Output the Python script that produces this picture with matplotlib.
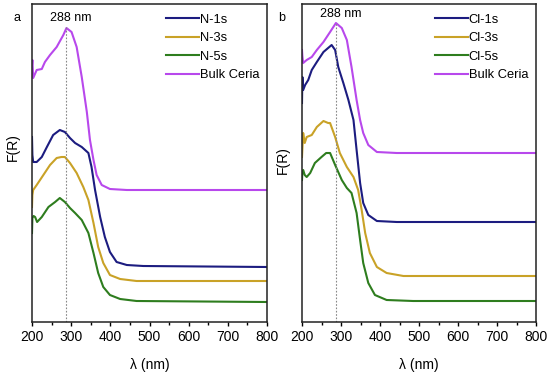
import matplotlib
matplotlib.use("Agg")
import matplotlib.pyplot as plt
from matplotlib.ticker import MultipleLocator

plt.rcParams["font.family"] = ["Liberation Sans", "DejaVu Sans"]

# panel a (wavelength in nm, F(R) in arbitrary units)
bulk_a_x = [200, 201, 203, 212, 225, 233, 246, 263, 280, 288, 301, 314, 327, 340, 348, 357, 365, 378, 399, 442, 800]
bulk_a_y = [257, 262, 244, 252, 253, 260, 267, 275, 287, 294, 290, 275, 245, 210, 182, 162, 147, 137, 133, 132, 132]
n1_x = [200, 201, 203, 212, 225, 238, 254, 271, 284, 297, 310, 327, 344, 352, 361, 374, 386, 399, 416, 442, 484, 800]
n1_y = [185, 167, 160, 160, 165, 175, 187, 192, 190, 184, 179, 175, 169, 155, 132, 105, 85, 70, 60, 57, 56, 55]
n3_x = [200, 201, 203, 212, 229, 246, 263, 275, 284, 297, 314, 331, 344, 357, 369, 382, 399, 425, 467, 800]
n3_y = [115, 127, 132, 137, 147, 157, 164, 165, 165, 159, 149, 135, 122, 99, 75, 59, 47, 43, 41, 41]
n5_x = [200, 201, 204, 208, 213, 225, 242, 259, 271, 284, 297, 310, 327, 344, 357, 369, 382, 399, 425, 467, 800]
n5_y = [89, 104, 106, 105, 100, 105, 115, 120, 124, 120, 114, 109, 102, 89, 69, 49, 35, 27, 23, 21, 20]

# panel b
bulk_b_x = [200, 201, 203, 212, 225, 238, 255, 272, 287, 302, 315, 327, 340, 349, 357, 370, 392, 443, 800]
bulk_b_y = [272, 266, 259, 262, 265, 272, 280, 290, 299, 294, 282, 255, 222, 202, 189, 177, 170, 169, 169]
cl1_x = [200, 201, 203, 208, 216, 225, 238, 255, 276, 285, 293, 306, 319, 332, 340, 349, 357, 370, 392, 443, 800]
cl1_y = [219, 245, 232, 237, 242, 252, 260, 270, 277, 272, 255, 239, 222, 202, 172, 139, 119, 107, 101, 100, 100]
cl3_x = [200, 203, 207, 212, 225, 238, 255, 267, 272, 285, 297, 315, 332, 344, 353, 362, 374, 392, 417, 460, 800]
cl3_y = [165, 189, 179, 185, 187, 195, 201, 199, 199, 185, 169, 155, 145, 132, 112, 89, 69, 55, 49, 46, 46]
cl5_x = [200, 201, 203, 207, 212, 221, 233, 250, 262, 272, 285, 302, 315, 327, 340, 349, 357, 370, 387, 417, 485, 800]
cl5_y = [142, 150, 152, 147, 145, 149, 159, 165, 169, 169, 157, 142, 134, 129, 109, 82, 59, 39, 27, 22, 21, 21]

NAVY = "#1c1c80"
GOLD = "#c9a227"
GREEN = "#2e7d1e"
PURPLE = "#b848ec"

panels = [
    ("a", [(n1_x, n1_y, "N-1s", NAVY), (n3_x, n3_y, "N-3s", GOLD),
           (n5_x, n5_y, "N-5s", GREEN), (bulk_a_x, bulk_a_y, "Bulk Ceria", PURPLE)],
     [32 / 550, 55 / 377, 235 / 550, 318 / 377], 0.55, 304, -0.064),
    ("b", [(cl1_x, cl1_y, "Cl-1s", NAVY), (cl3_x, cl3_y, "Cl-3s", GOLD),
           (cl5_x, cl5_y, "Cl-5s", GREEN), (bulk_b_x, bulk_b_y, "Bulk Ceria", PURPLE)],
     [302 / 550, 55 / 377, 234 / 550, 318 / 377], 0.51, 308, -0.085),
]

fig = plt.figure(figsize=(5.5, 3.77), dpi=100)
for letter, series, rect, ylab_pos, label_y, letter_x in panels:
    ax = fig.add_axes(rect)
    for x, y, name, color in series:
        ax.plot(x, y, color=color, lw=1.5, label=name, solid_joinstyle="round")
    ax.axvline(288, ymin=0, ymax=(label_y - 8) / 318, color="#888888", lw=0.8, ls=(0, (1.5, 1.5)))
    ax.text(300, label_y, "288 nm", ha="center", va="center", fontsize=9)
    ax.set_xlim(200, 800)
    ax.set_ylim(0, 318)
    ax.xaxis.set_major_locator(MultipleLocator(100))
    ax.xaxis.set_minor_locator(MultipleLocator(50))
    ax.tick_params(axis="x", which="major", direction="out", length=3, width=1, labelsize=10, pad=3)
    ax.tick_params(axis="x", which="minor", direction="out", length=2.5, width=1)
    ax.set_yticks([])
    for sp in ax.spines.values():
        sp.set_linewidth(1.1)
        sp.set_color("#222222")
    ax.set_xlabel("λ (nm)", fontsize=10, labelpad=10)
    ax.set_ylabel("F(R)", fontsize=10)
    ax.yaxis.set_label_coords(-0.051, ylab_pos)
    ax.text(letter_x, 0.955, letter, transform=ax.transAxes, ha="center", va="center", fontsize=9)
    ax.legend(loc="upper right", bbox_to_anchor=(0.983, 0.982), frameon=False, fontsize=9.3,
              handlelength=2.5, handletextpad=0.08, labelspacing=0.5, borderpad=0.2,
              borderaxespad=0.1)

fig.savefig("out.png", dpi=100)
